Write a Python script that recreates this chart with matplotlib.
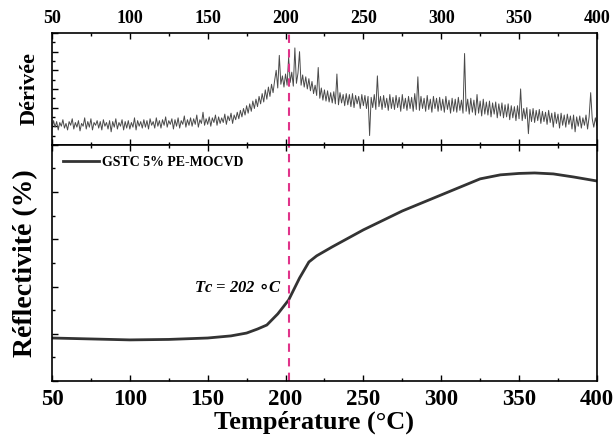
import numpy as np
import matplotlib
matplotlib.use("Agg")
import matplotlib.pyplot as plt
from matplotlib.ticker import MultipleLocator

plt.rcParams['font.family'] = ['Liberation Serif', 'DejaVu Serif']
plt.rcParams['font.weight'] = 'bold'

# courbe de réflectivité
temp_refl = [50, 75, 100, 125, 150, 165, 175, 182, 188, 195, 202, 209, 215, 220,
             230, 250, 275, 300, 325, 338, 350, 360, 372, 385, 400]
refl = [1.82, 1.78, 1.74, 1.76, 1.82, 1.91, 2.03, 2.20, 2.37, 2.84, 3.43, 4.36, 5.04, 5.30,
        5.68, 6.40, 7.20, 7.88, 8.56, 8.73, 8.79, 8.81, 8.77, 8.64, 8.47]

# dérivée, un point par degré de 50 à 400
temp_der = list(range(50, 401))
derivee = [
    1.7, 2.6, 1.9, 2.5, 1.6, 2.4, 2.0, 2.7, 1.8, 2.3,
    1.6, 2.5, 2.1, 2.8, 1.7, 2.4, 1.9, 2.6, 1.5, 2.3,
    2.0, 2.9, 1.7, 2.5, 1.9, 2.8, 1.6, 2.4, 2.1, 2.6,
    1.8, 2.5, 1.6, 2.7, 2.0, 2.4, 1.7, 2.6, 1.4, 2.5,
    1.9, 2.8, 1.7, 2.4, 2.0, 2.7, 1.6, 2.5, 1.8, 2.6,
    1.7, 2.4, 1.9, 2.9, 1.6, 2.6, 2.0, 2.5, 1.8, 2.7,
    1.9, 2.6, 1.7, 2.8, 2.1, 2.5, 1.8, 2.9, 2.0, 2.6,
    1.8, 2.7, 2.1, 3.0, 1.9, 2.6, 2.2, 2.8, 1.7, 2.7,
    2.0, 2.9, 1.8, 2.6, 2.2, 3.1, 1.9, 2.7, 2.1, 2.9,
    2.0, 2.8, 2.2, 3.2, 1.9, 2.7, 2.3, 3.5, 2.1, 2.8,
    2.2, 3.0, 2.0, 2.9, 2.4, 3.2, 2.1, 3.0, 2.3, 2.9,
    2.4, 3.3, 2.2, 3.1, 2.6, 3.4, 2.3, 3.2, 2.7, 3.5,
    2.8, 3.7, 3.0, 3.9, 3.2, 4.2, 3.4, 4.4, 3.6, 4.7,
    3.9, 4.9, 4.1, 5.2, 4.4, 5.5, 4.6, 5.9, 4.9, 6.2,
    5.2, 6.5, 5.6, 6.9, 8.0, 6.1, 9.6, 6.5, 7.4, 6.2,
    7.6, 6.4, 9.4, 6.7, 7.8, 6.3, 10.4, 6.6, 7.7, 10.0,
    6.4, 7.5, 6.2, 7.3, 6.0, 7.1, 5.8, 6.8, 5.5, 6.4,
    5.3, 8.3, 5.0, 6.1, 4.8, 5.9, 4.7, 5.8, 4.6, 5.6,
    4.5, 5.7, 4.4, 7.6, 4.3, 5.6, 4.5, 5.4, 4.2, 5.5,
    4.3, 5.4, 4.1, 5.5, 4.0, 5.3, 4.4, 5.2, 3.9, 5.4,
    4.2, 5.3, 3.9, 5.2, 1.0, 5.1, 4.0, 5.4, 3.8, 7.4,
    4.1, 5.2, 3.8, 5.3, 4.0, 5.0, 3.7, 5.4, 3.9, 5.1,
    3.8, 5.3, 4.0, 5.1, 3.6, 5.4, 3.9, 5.0, 3.7, 5.2,
    3.9, 5.1, 3.6, 5.5, 3.8, 7.3, 3.7, 5.2, 3.9, 5.0,
    3.6, 5.3, 3.8, 4.9, 3.5, 5.2, 3.9, 5.0, 3.6, 5.1,
    3.7, 4.9, 3.5, 5.2, 3.8, 4.8, 3.4, 5.0, 3.6, 4.9,
    3.5, 5.1, 3.7, 4.8, 3.4, 9.8, 3.6, 4.9, 3.3, 5.0,
    3.5, 4.8, 3.2, 5.4, 3.4, 4.7, 3.1, 4.9, 3.3, 4.6,
    3.2, 4.7, 3.0, 4.5, 3.3, 4.6, 2.9, 4.4, 3.1, 4.5,
    2.9, 4.3, 3.0, 4.4, 2.7, 4.2, 2.9, 4.1, 2.6, 4.2,
    2.8, 6.0, 2.6, 3.9, 2.8, 4.0, 1.2, 3.8, 2.5, 3.9,
    2.4, 3.7, 2.6, 3.8, 2.3, 3.6, 2.5, 3.5, 2.2, 3.7,
    2.4, 3.4, 1.9, 3.5, 2.3, 3.3, 1.8, 3.4, 2.1, 3.2,
    1.9, 3.3, 2.2, 3.1, 1.7, 3.2, 1.4, 3.0, 2.0, 3.1,
    1.8, 2.9, 2.1, 3.2, 1.7, 3.0, 5.6, 2.8, 1.9, 2.9,
    2.1,
]

tc = 202
xticks = [50, 100, 150, 200, 250, 300, 350, 400]

fig = plt.figure(figsize=(6.16, 4.43), dpi=100)
ax1 = fig.add_axes([0.0844, 0.673, 0.8846, 0.2525])
ax2 = fig.add_axes([0.0844, 0.140, 0.8846, 0.533])

# panneau du haut : dérivée
ax1.plot(temp_der, derivee, color='#4a4a4a', lw=0.7)
ax1.axvline(tc, color='#e0338a', ls=(0, (4, 3)), lw=1.5)
ax1.set_xlim(50, 400)
ax1.set_ylim(0, 12)
ax1.set_xticks(xticks)
ax1.xaxis.set_minor_locator(MultipleLocator(25))
ax1.yaxis.set_major_locator(MultipleLocator(2))
ax1.yaxis.set_minor_locator(MultipleLocator(1))
ax1.tick_params(which='both', direction='in', top=True, bottom=True,
                labeltop=True, labelbottom=False, labelleft=False, width=1)
ax1.tick_params(which='major', length=4, labelsize=13, pad=4)
ax1.tick_params(which='minor', length=2.5)
ax1.set_ylabel('Dérivée', fontsize=16, fontweight='bold', labelpad=9)

# panneau du bas : réflectivité
ax2.plot(temp_refl, refl, color='#333333', lw=2, label='GSTC 5% PE-MOCVD')
ax2.axvline(tc, color='#e0338a', ls=(0, (4, 3)), lw=1.5)
ax2.set_xlim(50, 400)
ax2.set_ylim(0, 10)
ax2.set_xticks(xticks)
ax2.xaxis.set_minor_locator(MultipleLocator(25))
ax2.yaxis.set_major_locator(MultipleLocator(2))
ax2.yaxis.set_minor_locator(MultipleLocator(1))
ax2.tick_params(which='both', direction='in', top=True, labelleft=False, width=1)
ax2.tick_params(which='major', length=4, labelsize=16.5, pad=6)
ax2.tick_params(which='minor', length=2.5)
ax2.set_xlabel('Température (°C)', fontsize=19, fontweight='bold', labelpad=0)
ax2.xaxis.set_label_coords(0.48, -0.125)
ax2.set_ylabel('Réflectivité (%)', fontsize=20, fontweight='bold', labelpad=10)
ax2.text(198, 3.95, r'Tc = 202 $\circ$C', ha='right', va='center', fontsize=12,
         fontweight='bold', style='italic')
leg = ax2.legend(loc='upper left', frameon=False, prop={'size': 10, 'weight': 'bold'},
                 handlelength=2.6, borderaxespad=0.4, handletextpad=0.2)

for ax in (ax1, ax2):
    for s in ax.spines.values():
        s.set_linewidth(1.2)

fig.savefig('out.png', dpi=100)
